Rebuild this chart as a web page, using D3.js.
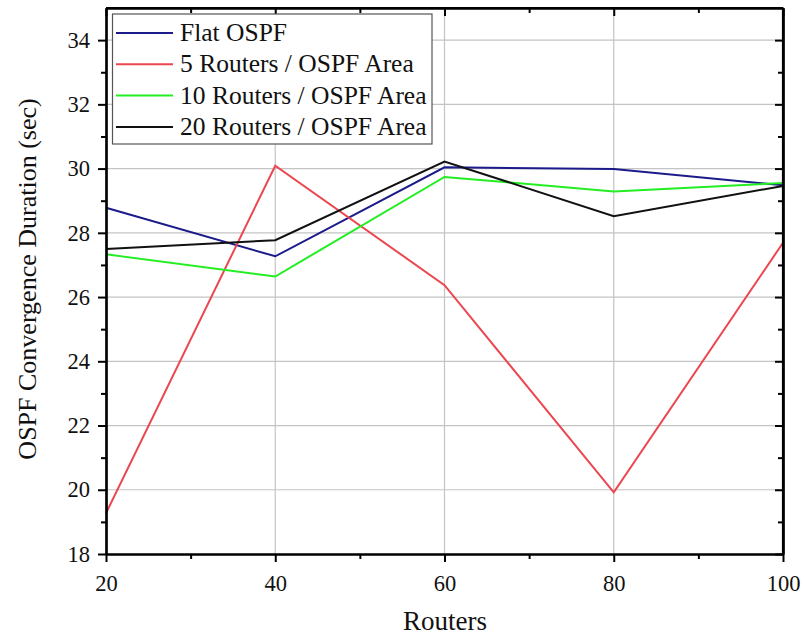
<!DOCTYPE html>
<html><head><meta charset="utf-8">
<script src="https://cdn.jsdelivr.net/npm/d3@7"></script>
<style>body{margin:0;background:#fff}svg{display:block}text{font-family:"Liberation Serif","Times New Roman",serif;fill:#111}</style>
</head><body><svg id="c" width="804" height="637"></svg>
<script>
const routers = [20, 40, 60, 80, 100];
const flatOSPF = [28.78, 27.27, 30.04, 29.99, 29.48];
const r5 = [19.27, 30.09, 26.37, 19.92, 27.69];
const r10 = [27.33, 26.64, 29.74, 29.29, 29.55];
const r20 = [27.50, 27.77, 30.22, 28.52, 29.46];
const seriesNames = ["Flat OSPF", "5 Routers / OSPF Area", "10 Routers / OSPF Area", "20 Routers / OSPF Area"];
const seriesColors = ["#1b1b8a", "#ec4650", "#22ee22", "#111111"];
const xTicks = [20, 40, 60, 80, 100];
const yTicks = [18, 20, 22, 24, 26, 28, 30, 32, 34];
const xLabel = "Routers";
const yLabel = "OSPF Convergence Duration (sec)";

const seriesData = [flatOSPF, r5, r10, r20];
const svg = d3.select("#c");
const L = 106, R = 783, T = 8, B = 554;
const x = d3.scaleLinear().domain([20, 100]).range([L, R]);
const y = d3.scaleLinear().domain([18, 35]).range([B, T]);
const xMinor = d3.range(30, 100, 20);
const yMinor = d3.range(19, 35, 2);

// grid
svg.append("g").selectAll("line").data(xTicks.slice(1, -1)).join("line")
  .attr("x1", d => x(d)).attr("x2", d => x(d)).attr("y1", T).attr("y2", B)
  .attr("stroke", "#c4c4c4").attr("stroke-width", 1.2);
svg.append("g").selectAll("line").data(yTicks.slice(1)).join("line")
  .attr("x1", L).attr("x2", R).attr("y1", d => y(d)).attr("y2", d => y(d))
  .attr("stroke", "#c4c4c4").attr("stroke-width", 1.2);

// lines
const line = d3.line().x((d, i) => x(routers[i])).y(d => y(d));
seriesData.forEach((s, k) => {
  svg.append("path").datum(s).attr("d", line).attr("fill", "none")
    .attr("stroke", seriesColors[k]).attr("stroke-width", 2);
});

// axes
function styleAxis(g) {
  g.selectAll("path.domain").attr("stroke", "#000").attr("stroke-width", 2.2);
  g.selectAll(".tick line").attr("stroke", "#000").attr("stroke-width", 2);
  g.selectAll("text").style("font-family", '"Liberation Serif", serif').style("font-size", "22.5px").attr("fill", "#111");
}
const fmt = d3.format("d");
svg.append("g").attr("transform", `translate(0,${B})`)
  .call(d3.axisBottom(x).tickValues(xTicks).tickFormat(fmt).tickSize(8).tickSizeOuter(0).tickPadding(13)).call(styleAxis);
svg.append("g").attr("transform", `translate(0,${B})`)
  .call(d3.axisBottom(x).tickValues(xMinor).tickFormat("").tickSize(5).tickSizeOuter(0)).call(styleAxis);
svg.append("g").attr("transform", `translate(${L},0)`)
  .call(d3.axisLeft(y).tickValues(yTicks).tickFormat(fmt).tickSize(8).tickSizeOuter(0).tickPadding(8)).call(styleAxis);
svg.append("g").attr("transform", `translate(${L},0)`)
  .call(d3.axisLeft(y).tickValues(yMinor).tickFormat("").tickSize(5).tickSizeOuter(0)).call(styleAxis);
// top & right (inward ticks)
svg.append("g").attr("transform", `translate(0,${T})`)
  .call(d3.axisBottom(x).tickValues(xTicks).tickFormat("").tickSize(8).tickSizeOuter(0)).call(styleAxis);
svg.append("g").attr("transform", `translate(0,${T})`)
  .call(d3.axisBottom(x).tickValues(xMinor).tickFormat("").tickSize(5).tickSizeOuter(0)).call(styleAxis);
svg.append("g").attr("transform", `translate(${R},0)`)
  .call(d3.axisLeft(y).tickValues(yTicks).tickFormat("").tickSize(8).tickSizeOuter(0)).call(g => {
    styleAxis(g); g.selectAll(".tick line").attr("x2", -8);
  });
svg.append("g").attr("transform", `translate(${R},0)`)
  .call(d3.axisLeft(y).tickValues(yMinor).tickFormat("").tickSize(5).tickSizeOuter(0)).call(g => {
    styleAxis(g); g.selectAll(".tick line").attr("x2", -5);
  });
svg.append("line").attr("x1", L).attr("x2", R).attr("y1", T).attr("y2", T).attr("stroke", "#000").attr("stroke-width", 2.2);
svg.append("line").attr("x1", R).attr("x2", R).attr("y1", T).attr("y2", B).attr("stroke", "#000").attr("stroke-width", 2.2);

// labels
svg.append("text").attr("x", 445).attr("y", 630).attr("text-anchor", "middle")
  .style("font-size", "27px").text(xLabel);
svg.append("text").attr("transform", `translate(36,279) rotate(-90)`).attr("text-anchor", "middle")
  .style("font-size", "26px").text(yLabel);

// legend
const lg = svg.append("g");
lg.append("rect").attr("x", 112.5).attr("y", 14).attr("width", 319.5).attr("height", 130)
  .attr("fill", "#fff").attr("stroke", "#555").attr("stroke-width", 1.2);
seriesNames.forEach((n, k) => {
  const yy = 33 + k * 31.3;
  lg.append("line").attr("x1", 116).attr("x2", 173).attr("y1", yy).attr("y2", yy)
    .attr("stroke", seriesColors[k]).attr("stroke-width", 2);
  lg.append("text").attr("x", 180).attr("y", yy + 8).style("font-size", "25.5px").text(n);
});
</script></body></html>
